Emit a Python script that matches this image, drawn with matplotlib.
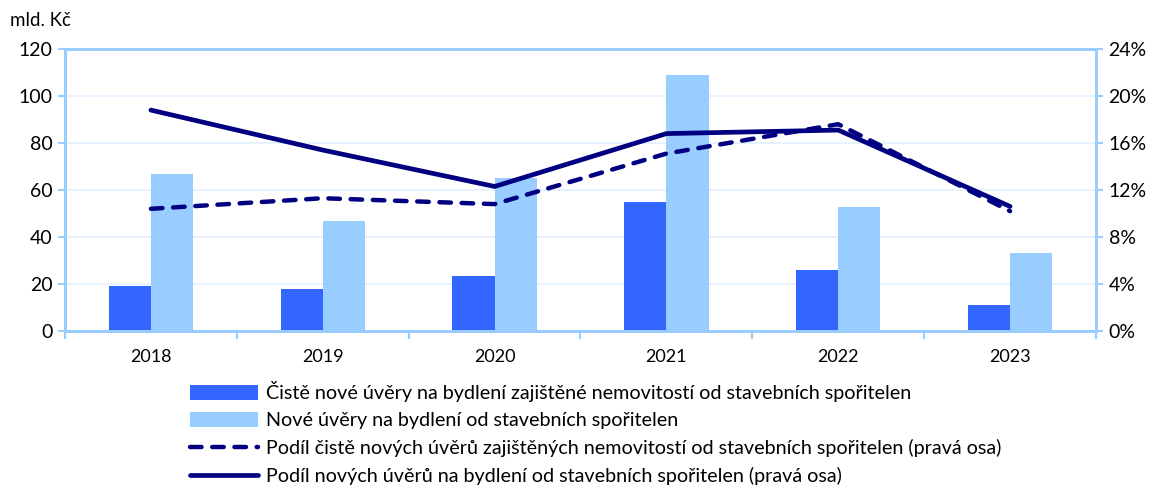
import matplotlib

matplotlib.use("Agg")
import matplotlib.pyplot as plt
import numpy as np

plt.rcParams["font.family"] = ["Lato", "DejaVu Sans"]

years = ["2018", "2019", "2020", "2021", "2022", "2023"]
net_new_loans = [19.2, 18.0, 23.4, 54.9, 26.1, 11.2]
new_loans = [67.0, 47.0, 65.0, 109.0, 52.7, 33.0]
share_net_new = [10.4, 11.3, 10.8, 15.1, 17.6, 10.2]
share_new = [18.8, 15.4, 12.3, 16.8, 17.1, 10.6]

label_net = "Čistě nové úvěry na bydlení zajištěné nemovitostí od stavebních spořitelen"
label_new = "Nové úvěry na bydlení od stavebních spořitelen"
label_share_net = "Podíl čistě nových úvěrů zajištěných nemovitostí od stavebních spořitelen (pravá osa)"
label_share_new = "Podíl nových úvěrů na bydlení od stavebních spořitelen (pravá osa)"

axis_blue = "#99CCFF"
grid_blue = "#E3F0FF"
navy = "#000080"

fig = plt.figure(figsize=(11.56, 4.86), dpi=100)
ax = fig.add_axes((65 / 1156, 1 - 331 / 486, (1096 - 65) / 1156, (331 - 49) / 486))
ax2 = ax.twinx()

x = np.arange(len(years))
width = 0.245
b1 = ax.bar(x - width / 2, net_new_loans, width, color="#3366FF", label=label_net, zorder=2)
b2 = ax.bar(x + width / 2, new_loans, width, color="#99CCFF", label=label_new, zorder=2)

(l1,) = ax2.plot(x, share_net_new, color=navy, lw=3.2, dashes=(2.6, 2.4),
                 dash_capstyle="round", label=label_share_net)
(l2,) = ax2.plot(x, share_new, color=navy, lw=3.4, solid_capstyle="round",
                 label=label_share_new)

ax.set_xlim(-0.5, len(years) - 0.5)
ax.set_ylim(0, 120)
ax.set_yticks(np.arange(0, 121, 20))
ax2.set_ylim(0, 24)
ax2.set_yticks(np.arange(0, 25, 4))
ax2.set_yticklabels([f"{v}%" for v in range(0, 25, 4)])

ax.set_xticks(x)
ax.set_xticklabels(years)
ax.tick_params(axis="x", length=0, labelsize=13, pad=13)
ax.set_xticks(np.arange(-0.5, len(years)), minor=True)
ax.tick_params(axis="x", which="minor", length=6, width=1.5, color=axis_blue)
ax.tick_params(axis="y", length=5, width=1.5, color=axis_blue, labelsize=14, pad=4)
ax2.tick_params(axis="y", length=5, width=1.5, color=axis_blue, labelsize=14, pad=4)

ax.grid(axis="y", color=grid_blue, linewidth=1.2, zorder=0)
ax.set_axisbelow(True)
for a in (ax, ax2):
    for side in a.spines.values():
        side.set_color(axis_blue)
        side.set_linewidth(2)

fig.text(10 / 1156, 1 - 20 / 486, "mld. Kč", fontsize=13.5, va="center", ha="left")

fig.legend(
    handles=[b1, b2, l1, l2],
    loc="upper left",
    bbox_to_anchor=(190 / 1156, 1 - 381 / 486),
    frameon=False,
    fontsize=14.2,
    handlelength=3.45,
    handleheight=0.8,
    handletextpad=0.4,
    labelspacing=0.5,
    borderpad=0,
    borderaxespad=0,
)

fig.savefig("out.png", dpi=100, facecolor="white")
